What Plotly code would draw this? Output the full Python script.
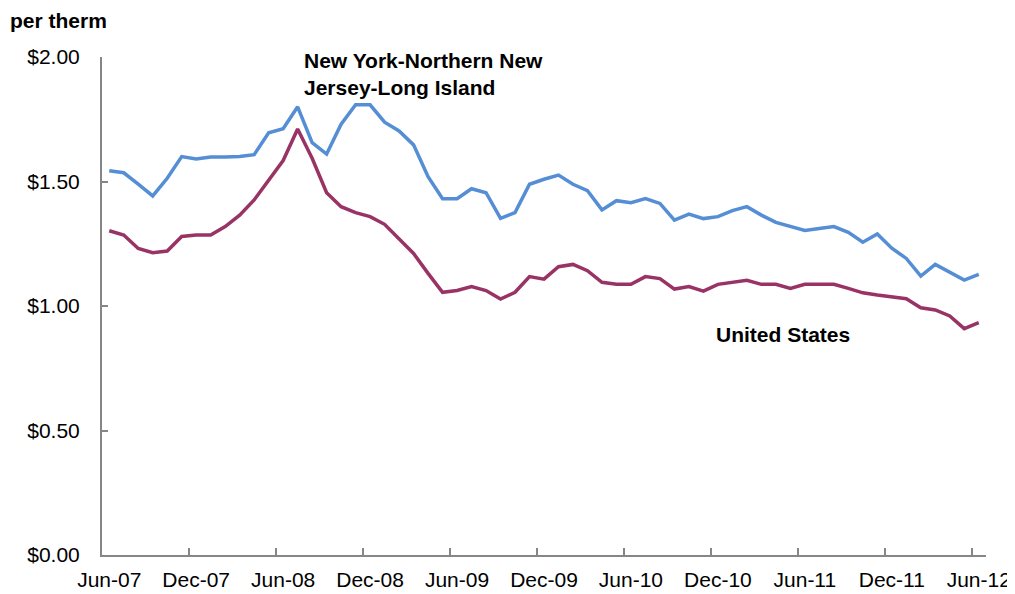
import plotly.graph_objects as go

months = []
for yr in range(7, 13):
    for m in ["Jan", "Feb", "Mar", "Apr", "May", "Jun", "Jul", "Aug", "Sep", "Oct", "Nov", "Dec"]:
        months.append(f"{m}-{yr:02d}")
months = months[5:5 + 61]  # Jun-07 .. Jun-12

ny_values = [
    1.543, 1.535, 1.489, 1.442, 1.513, 1.600, 1.590, 1.598, 1.598, 1.600,
    1.608, 1.696, 1.712, 1.800, 1.656, 1.610, 1.730, 1.808, 1.808, 1.738,
    1.703, 1.647, 1.519, 1.431, 1.431, 1.471, 1.455, 1.352, 1.375, 1.489,
    1.509, 1.526, 1.489, 1.463, 1.386, 1.423, 1.415, 1.431, 1.412, 1.345,
    1.369, 1.351, 1.359, 1.383, 1.399, 1.365, 1.336, 1.319, 1.303, 1.311,
    1.319, 1.296, 1.256, 1.289, 1.232, 1.191, 1.120, 1.167, 1.135, 1.104,
    1.127,
]
us_values = [
    1.302, 1.285, 1.231, 1.214, 1.221, 1.279, 1.285, 1.285, 1.319, 1.365,
    1.426, 1.506, 1.584, 1.711, 1.593, 1.455, 1.399, 1.375, 1.359, 1.328,
    1.270, 1.211, 1.131, 1.055, 1.062, 1.078, 1.062, 1.028, 1.055, 1.118,
    1.108, 1.158, 1.167, 1.142, 1.095, 1.087, 1.087, 1.118, 1.110, 1.068,
    1.078, 1.060, 1.087, 1.095, 1.103, 1.087, 1.087, 1.071, 1.087, 1.087,
    1.087, 1.071, 1.053, 1.044, 1.036, 1.029, 0.993, 0.984, 0.960, 0.909,
    0.933,
]
y_ticks = [0, 0.5, 1.0, 1.5, 2.0]
y_tick_labels = ["$0.00", "$0.50", "$1.00", "$1.50", "$2.00"]

idx = list(range(len(months)))
label_idx = idx[::6]
label_text = [months[i] for i in label_idx]
boundary_ticks = [i - 0.5 for i in label_idx[1:]]

FONT = "Liberation Sans, Arial, sans-serif"
AXIS_COLOR = "#868686"

# page body has an 8px default margin; size the figure so it fits the window
fig = go.Figure()
fig.add_trace(go.Scatter(x=idx, y=ny_values, mode="lines",
                         line=dict(color="#558ED5", width=3.5),
                         name="New York-Northern New Jersey-Long Island"))
fig.add_trace(go.Scatter(x=idx, y=us_values, mode="lines",
                         line=dict(color="#993366", width=3.5),
                         name="United States"))

fig.update_layout(
    width=1007, height=586,
    margin=dict(l=94, r=29, t=49, b=39, autoexpand=False),
    paper_bgcolor="white", plot_bgcolor="white",
    showlegend=False,
    font=dict(family=FONT, size=21, color="#000000"),
    xaxis=dict(
        range=[-0.5, len(months) - 0.5],
        tickmode="array", tickvals=label_idx, ticktext=label_text,
        ticks="", showgrid=False, zeroline=False, automargin=False,
        showline=True, linecolor=AXIS_COLOR, linewidth=2,
        tickfont=dict(size=21, family=FONT),
        ticklabelstandoff=5,
        minor=dict(tickmode="array", tickvals=boundary_ticks, ticks="inside",
                   ticklen=7, tickwidth=2, tickcolor=AXIS_COLOR, showgrid=False),
    ),
    yaxis=dict(
        range=[0, 2.0],
        tickmode="array", tickvals=y_ticks, ticktext=y_tick_labels,
        ticks="inside", ticklen=6, tickwidth=2, tickcolor=AXIS_COLOR,
        showgrid=False, zeroline=False, automargin=False,
        showline=True, linecolor=AXIS_COLOR, linewidth=2,
        tickfont=dict(size=21, family=FONT),
        ticklabelstandoff=16,
    ),
    annotations=[
        dict(text="<b>per therm</b>", xref="paper", yref="paper",
             x=-0.106, y=1.1, xanchor="left", yanchor="top",
             showarrow=False, font=dict(size=21, family=FONT)),
        dict(text="<b>New York-Northern New<br>Jersey-Long Island</b>",
             xref="paper", yref="paper", x=0.226, y=1.02, xanchor="left", yanchor="top",
             align="left", showarrow=False, font=dict(size=21, family=FONT)),
        dict(text="<b>United States</b>", xref="x", yref="y",
             x=41.7, y=0.884, xanchor="left", yanchor="middle",
             showarrow=False, font=dict(size=21, family=FONT)),
    ],
)

fig.write_html("out.html")
